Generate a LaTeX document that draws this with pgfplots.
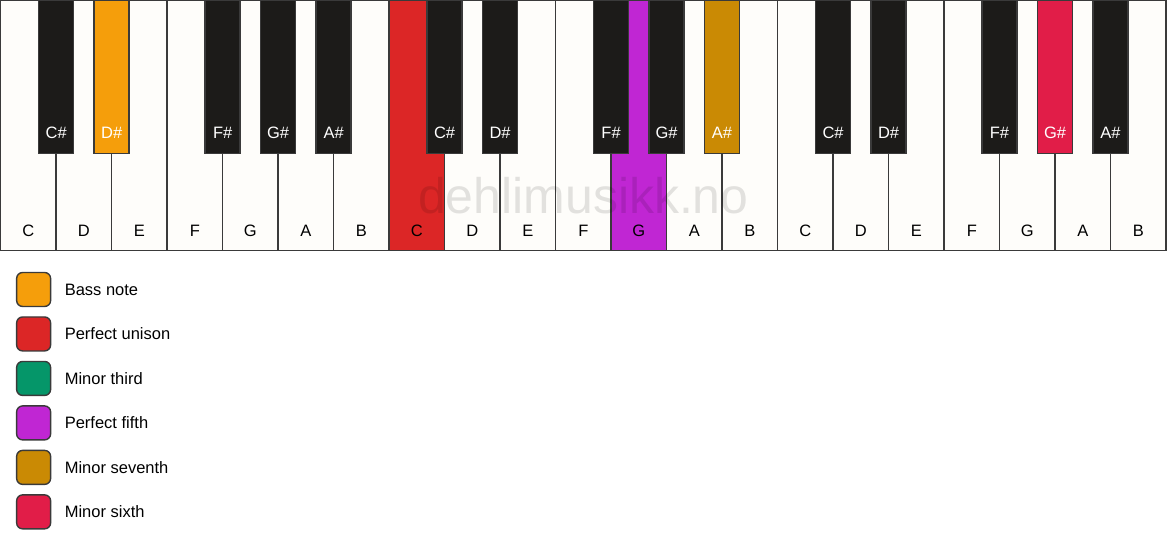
\documentclass[border=0pt]{standalone}
\usepackage{fontspec}
\setmainfont{Liberation Sans}
\usepackage{pgfplots}
\pgfplotsset{compat=1.18}

\definecolor{keywhite}{HTML}{FEFDFA}
\definecolor{keyblack}{HTML}{1C1B19}
\definecolor{keyline}{HTML}{3A3A3A}
\definecolor{bassnote}{HTML}{F59E0B}
\definecolor{unison}{HTML}{DC2626}
\definecolor{minthird}{HTML}{059669}
\definecolor{fifth}{HTML}{C026D3}
\definecolor{minseventh}{HTML}{CA8A04}
\definecolor{minsixth}{HTML}{E11D48}

\tikzset{
    lbl/.style={font=\fontsize{16.5}{20}\selectfont, inner sep=0pt},
    wlbl/.style={lbl, text=white},
}

\begin{document}
\begin{tikzpicture}
\begin{axis}[
    width=1167pt, height=550pt, scale only axis,
    xmin=0, xmax=1167, ymin=0, ymax=550,
    y dir=reverse,
    hide axis, clip=false,
    key/.style={ybar, bar shift=0pt, draw=keyline, line width=1.3pt, mark=none},
    swatch/.style={draw=keyline, line width=1.4pt, rounded corners=6pt, mark=none},
]
\path (axis cs:0,0) (axis cs:1167,550);

% white keys (centre, height)
\addplot[key, bar width=55.52, fill=keywhite] table[row sep=\\] {
x y\\
27.76 250\\ 83.29 250\\ 138.81 250\\ 194.33 250\\ 249.86 250\\ 305.38 250\\ 360.90 250\\
416.43 250\\ 471.95 250\\ 527.48 250\\ 583.00 250\\ 638.52 250\\ 694.05 250\\ 749.57 250\\
805.10 250\\ 860.62 250\\ 916.14 250\\ 971.67 250\\ 1027.19 250\\ 1082.71 250\\ 1138.24 250\\
};
% highlighted white keys
\addplot[key, bar width=55.52, fill=unison] coordinates {(416.43,250)};
\addplot[key, bar width=55.52, fill=fifth] coordinates {(638.52,250)};

% watermark
\node[text=black, opacity=0.11, font=\fontsize{50}{60}\selectfont] at (axis cs:583,195) {dehlimusikk.no};

% black keys
\addplot[key, bar width=35, fill=keyblack] table[row sep=\\] {
x y\\
55.52 153\\ 222.10 153\\ 277.62 153\\ 333.14 153\\
444.19 153\\ 499.71 153\\ 610.76 153\\ 666.29 153\\
832.86 153\\ 888.38 153\\ 999.43 153\\ 1110.48 153\\
};
% highlighted black keys
\addplot[key, bar width=35, fill=bassnote] coordinates {(111.05,153)};
\addplot[key, bar width=35, fill=minseventh] coordinates {(721.81,153)};
\addplot[key, bar width=35, fill=minsixth] coordinates {(1054.95,153)};

% white key names
\node[lbl] at (axis cs:27.76,230) {C};
\node[lbl] at (axis cs:83.29,230) {D};
\node[lbl] at (axis cs:138.81,230) {E};
\node[lbl] at (axis cs:194.33,230) {F};
\node[lbl] at (axis cs:249.86,230) {G};
\node[lbl] at (axis cs:305.38,230) {A};
\node[lbl] at (axis cs:360.90,230) {B};
\node[lbl] at (axis cs:416.43,230) {C};
\node[lbl] at (axis cs:471.95,230) {D};
\node[lbl] at (axis cs:527.48,230) {E};
\node[lbl] at (axis cs:583.00,230) {F};
\node[lbl] at (axis cs:638.52,230) {G};
\node[lbl] at (axis cs:694.05,230) {A};
\node[lbl] at (axis cs:749.57,230) {B};
\node[lbl] at (axis cs:805.10,230) {C};
\node[lbl] at (axis cs:860.62,230) {D};
\node[lbl] at (axis cs:916.14,230) {E};
\node[lbl] at (axis cs:971.67,230) {F};
\node[lbl] at (axis cs:1027.19,230) {G};
\node[lbl] at (axis cs:1082.71,230) {A};
\node[lbl] at (axis cs:1138.24,230) {B};

% black key names
\node[wlbl] at (axis cs:55.52,132) {C\#};
\node[wlbl] at (axis cs:111.05,132) {D\#};
\node[wlbl] at (axis cs:222.10,132) {F\#};
\node[wlbl] at (axis cs:277.62,132) {G\#};
\node[wlbl] at (axis cs:333.14,132) {A\#};
\node[wlbl] at (axis cs:444.19,132) {C\#};
\node[wlbl] at (axis cs:499.71,132) {D\#};
\node[wlbl] at (axis cs:610.76,132) {F\#};
\node[wlbl] at (axis cs:666.29,132) {G\#};
\node[wlbl] at (axis cs:721.81,132) {A\#};
\node[wlbl] at (axis cs:832.86,132) {C\#};
\node[wlbl] at (axis cs:888.38,132) {D\#};
\node[wlbl] at (axis cs:999.43,132) {F\#};
\node[wlbl] at (axis cs:1054.95,132) {G\#};
\node[wlbl] at (axis cs:1110.48,132) {A\#};

% legend swatches
\addplot[swatch, fill=bassnote] coordinates {(16,272) (50,272) (50,306) (16,306)} -- cycle;
\addplot[swatch, fill=unison] coordinates {(16,316.5) (50,316.5) (50,350.5) (16,350.5)} -- cycle;
\addplot[swatch, fill=minthird] coordinates {(16,361) (50,361) (50,395) (16,395)} -- cycle;
\addplot[swatch, fill=fifth] coordinates {(16,405.5) (50,405.5) (50,439.5) (16,439.5)} -- cycle;
\addplot[swatch, fill=minseventh] coordinates {(16,450) (50,450) (50,484) (16,484)} -- cycle;
\addplot[swatch, fill=minsixth] coordinates {(16,494.5) (50,494.5) (50,528.5) (16,528.5)} -- cycle;

\node[lbl, anchor=west] at (axis cs:64,289) {Bass note};
\node[lbl, anchor=west] at (axis cs:64,333.5) {Perfect unison};
\node[lbl, anchor=west] at (axis cs:64,378) {Minor third};
\node[lbl, anchor=west] at (axis cs:64,422.5) {Perfect fifth};
\node[lbl, anchor=west] at (axis cs:64,467) {Minor seventh};
\node[lbl, anchor=west] at (axis cs:64,511.5) {Minor sixth};
\end{axis}
\end{tikzpicture}
\end{document}
